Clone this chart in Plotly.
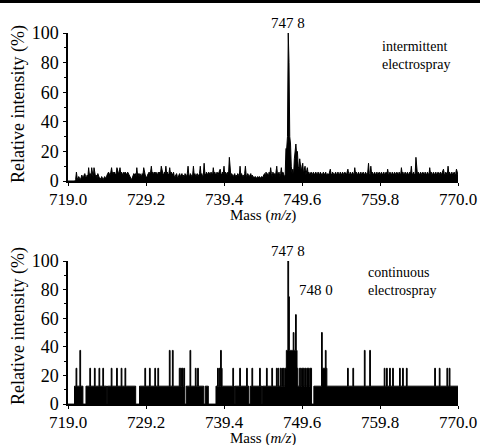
import plotly.graph_objects as go

# ---------------- data ----------------
MASS_START = 719.0          # first sampled m/z
MASS_STEP = 0.1             # sampling interval (m/z)
X_TICKS = [719.0, 729.2, 739.4, 749.6, 759.8, 770.0]
Y_TICKS = [0, 20, 40, 60, 80, 100]

# intermittent electrospray: relative intensity (%) per sample
INTERMITTENT = [
    0, 0, 0, 0, 0, 0, 0, 0, 0, 0,
    1, 6, 2, 1, 3, 2, 1, 2, 4, 3,
    2, 4, 5, 3, 2, 4, 3, 9, 4, 5,
    3, 9, 4, 2, 9, 5, 3, 4, 2, 5,
    3, 2, 2, 1, 3, 2, 1, 2, 3, 2,
    2, 4, 5, 6, 5, 4, 6, 9, 5, 6,
    5, 6, 4, 5, 9, 6, 5, 6, 9, 5,
    6, 5, 4, 6, 5, 6, 5, 4, 6, 5,
    4, 2, 2, 1, 2, 4, 5, 4, 5, 3,
    9, 4, 5, 3, 5, 4, 3, 5, 4, 9,
    5, 4, 3, 2, 4, 5, 6, 5, 6, 10,
    5, 6, 4, 6, 5, 6, 5, 4, 6, 5,
    6, 5, 10, 6, 5, 4, 6, 5, 10, 5,
    6, 4, 5, 9, 5, 6, 5, 4, 6, 3,
    3, 4, 5, 3, 2, 4, 5, 3, 4, 5,
    3, 4, 2, 5, 4, 3, 5, 10, 4, 3,
    5, 4, 3, 4, 10, 4, 5, 3, 4, 5,
    3, 4, 5, 10, 4, 5, 3, 4, 12, 5,
    4, 6, 5, 4, 6, 5, 4, 6, 5, 4,
    9, 5, 6, 4, 5, 6, 4, 5, 6, 8,
    5, 4, 6, 5, 10, 4, 6, 5, 4, 6,
    5, 16, 4, 3, 5, 4, 3, 4, 5, 3,
    4, 3, 5, 4, 3, 10, 4, 5, 3, 4,
    3, 5, 10, 4, 3, 5, 4, 3, 4, 5,
    3, 4, 2, 3, 2, 3, 2, 2, 3, 2,
    3, 2, 2, 3, 2, 3, 4, 5, 3, 6,
    4, 5, 3, 6, 4, 9, 5, 3, 6, 4,
    5, 3, 6, 10, 4, 5, 6, 3, 5, 9,
    4, 6, 5, 3, 4, 22, 22, 30, 100, 80,
    30, 25, 10, 5, 8, 4, 15, 22, 25, 18,
    20, 10, 8, 15, 12, 6, 10, 12, 5, 8,
    10, 4, 6, 9, 5, 6, 4, 5, 6, 4,
    5, 6, 4, 5, 6, 5, 4, 6, 5, 4,
    6, 5, 4, 5, 6, 4, 5, 6, 4, 5,
    5, 4, 6, 8, 5, 4, 6, 5, 4, 5,
    6, 4, 5, 6, 5, 4, 6, 5, 4, 6,
    5, 4, 6, 5, 4, 6, 8, 5, 4, 6,
    5, 4, 6, 5, 4, 9, 5, 6, 4, 5,
    6, 4, 5, 6, 4, 5, 6, 5, 4, 6,
    5, 4, 6, 12, 5, 4, 10, 5, 6, 4,
    5, 6, 4, 5, 6, 4, 5, 6, 4, 5,
    6, 4, 5, 6, 4, 5, 6, 4, 8, 5,
    4, 6, 5, 4, 6, 5, 4, 6, 5, 4,
    6, 5, 4, 6, 5, 4, 9, 5, 6, 4,
    5, 6, 4, 5, 6, 4, 5, 6, 5, 10,
    4, 5, 6, 4, 5, 16, 5, 4, 6, 5,
    4, 6, 5, 4, 6, 5, 4, 6, 5, 4,
    6, 5, 4, 9, 5, 6, 4, 5, 6, 4,
    5, 6, 4, 5, 6, 4, 5, 6, 4, 5,
    6, 8, 5, 4, 6, 5, 4, 10, 5, 6,
    4, 5, 6, 4, 5, 6, 4, 5, 8, 5,
    4,
]

# continuous electrospray: ion counts per sample (base peak = 8 counts)
CONTINUOUS_COUNTS = [
    0, 0, 0, 0, 0, 0, 0, 0, 0, 1,
    1, 2, 1, 1, 1, 1, 3, 1, 1, 1,
    0, 0, 0, 0, 1, 1, 1, 1, 1, 2,
    1, 1, 1, 1, 1, 2, 1, 1, 1, 1,
    1, 2, 1, 1, 1, 1, 2, 1, 1, 1,
    1, 0, 1, 1, 1, 1, 1, 2, 1, 1,
    1, 1, 1, 1, 2, 1, 1, 1, 1, 1,
    2, 1, 1, 1, 1, 2, 1, 1, 1, 1,
    1, 1, 1, 1, 1, 1, 1, 1, 1, 0,
    0, 0, 0, 0, 1, 1, 1, 1, 1, 1,
    1, 2, 1, 1, 1, 1, 1, 2, 1, 1,
    1, 1, 1, 1, 2, 1, 1, 1, 2, 1,
    1, 1, 1, 1, 1, 1, 1, 1, 1, 1,
    1, 1, 1, 3, 1, 1, 1, 3, 1, 1,
    1, 1, 1, 1, 1, 1, 2, 2, 1, 2,
    2, 1, 2, 0, 0, 1, 1, 1, 1, 1,
    3, 1, 1, 1, 1, 1, 1, 2, 1, 1,
    2, 1, 1, 1, 1, 1, 1, 1, 0, 0,
    1, 1, 1, 1, 0, 0, 0, 0, 0, 0,
    0, 0, 0, 0, 1, 1, 2, 1, 2, 1,
    3, 2, 1, 1, 1, 1, 1, 1, 1, 1,
    1, 1, 1, 1, 1, 1, 2, 1, 0, 1,
    1, 1, 1, 1, 1, 2, 1, 1, 1, 1,
    1, 1, 1, 1, 2, 1, 1, 0, 0, 1,
    1, 2, 1, 1, 1, 1, 1, 1, 1, 1,
    1, 2, 1, 1, 0, 1, 1, 1, 1, 1,
    2, 1, 1, 1, 1, 1, 1, 2, 1, 1,
    1, 1, 1, 2, 1, 2, 1, 1, 2, 1,
    2, 1, 2, 1, 2, 2, 3, 3, 8, 6,
    3, 3, 3, 3, 3, 4, 3, 3, 5, 3,
    2, 1, 1, 2, 2, 1, 2, 2, 2, 1,
    2, 2, 1, 2, 2, 2, 1, 2, 2, 0,
    0, 0, 1, 1, 1, 1, 1, 1, 1, 1,
    1, 1, 4, 2, 2, 2, 2, 3, 2, 1,
    1, 1, 1, 1, 1, 1, 1, 1, 1, 1,
    1, 1, 1, 1, 1, 1, 1, 1, 1, 1,
    1, 1, 1, 1, 1, 1, 2, 1, 1, 1,
    1, 1, 1, 2, 1, 1, 1, 1, 1, 1,
    1, 1, 1, 1, 1, 1, 1, 1, 3, 1,
    1, 1, 1, 1, 1, 3, 1, 1, 1, 1,
    1, 1, 1, 1, 1, 1, 1, 1, 1, 1,
    1, 1, 1, 1, 2, 1, 1, 2, 1, 1,
    1, 2, 1, 1, 1, 2, 1, 1, 1, 1,
    1, 1, 1, 1, 2, 1, 1, 1, 2, 1,
    1, 1, 1, 2, 1, 1, 1, 1, 1, 1,
    1, 1, 1, 1, 1, 1, 1, 1, 1, 1,
    1, 1, 1, 1, 1, 1, 1, 1, 1, 1,
    1, 1, 1, 1, 1, 1, 1, 1, 1, 1,
    2, 1, 1, 1, 1, 1, 2, 1, 1, 1,
    1, 1, 1, 1, 1, 1, 2, 1, 1, 2,
    1, 1, 1, 1, 1, 1, 1, 1, 1, 1,
    1,
]

TOP_PEAKS = [(747.8, 100, "747 8")]
BOTTOM_PEAKS = [(747.8, 100, "747 8")]
BOTTOM_SIDE_PEAK = (748.0, 75, "748 0")
TOP_NOTE = "intermittent<br>electrospray"
BOTTOM_NOTE = "continuous<br>electrospray"

# ---------------- derived ----------------
mass_top = [MASS_START + MASS_STEP * i for i in range(len(INTERMITTENT))]
mass_bot = [MASS_START + MASS_STEP * i for i in range(len(CONTINUOUS_COUNTS))]
max_count = max(CONTINUOUS_COUNTS)
rel_bot = [c / max_count * 100 for c in CONTINUOUS_COUNTS]

W, H = 480, 445
FONT = "Liberation Serif, Times New Roman, serif"

def px_x(p):
    return p / W

def px_y(p):
    return 1 - p / H

fig = go.Figure()
fig.add_trace(go.Scatter(
    x=mass_top, y=INTERMITTENT, mode="lines",
    line=dict(color="black", width=1), fill="tozeroy", fillcolor="black",
    xaxis="x", yaxis="y", showlegend=False, hoverinfo="skip"))
fig.add_trace(go.Scatter(
    x=mass_bot, y=rel_bot, mode="lines", line_shape="hvh",
    line=dict(color="black", width=1), fill="tozeroy", fillcolor="black",
    xaxis="x2", yaxis="y2", showlegend=False, hoverinfo="skip"))

xdom = [px_x(68), px_x(458)]
axis_common = dict(
    showline=True, linecolor="black", linewidth=1.5,
    ticks="outside", tickcolor="black", tickwidth=1.2, ticklen=3,
    showgrid=False, zeroline=False, automargin=False,
    tickfont=dict(family=FONT, size=17, color="black"),
)
xaxis_common = dict(axis_common, range=[719.0, 770.0], tickvals=X_TICKS,
                    ticktext=[f"{v:.1f}" for v in X_TICKS],
                    ticklabelstandoff=-1)
yaxis_common = dict(axis_common, range=[0, 100], tickvals=Y_TICKS,
                    tickfont=dict(family=FONT, size=18, color="black"),
                    ticklabelstandoff=1,
                    minor=dict(ticks="outside", dtick=10, ticklen=2.5,
                               tickcolor="black", tickwidth=1))

fig.update_layout(
    width=W, height=H,
    margin=dict(l=0, r=0, t=0, b=0, pad=0, autoexpand=False),
    paper_bgcolor="white", plot_bgcolor="white",
    font=dict(family=FONT, color="black"),
    xaxis=dict(xaxis_common, domain=xdom, anchor="y"),
    yaxis=dict(yaxis_common, domain=[px_y(181), px_y(33)], anchor="x"),
    xaxis2=dict(xaxis_common, domain=xdom, anchor="y2"),
    yaxis2=dict(yaxis_common, domain=[px_y(404), px_y(261)], anchor="x2"),
)

ann = []
# axis titles
for yc in (104, 326):
    ann.append(dict(x=px_x(18), y=px_y(yc), xref="paper", yref="paper",
                    xanchor="center", yanchor="middle",
                    text="Relative intensity (%)", textangle=-90,
                    showarrow=False, font=dict(family=FONT, size=18, color="black")))
for yc in (215, 438):
    ann.append(dict(x=px_x(263), y=px_y(yc), xref="paper", yref="paper",
                    xanchor="center", yanchor="middle",
                    text="Mass (<i>m/z</i>)", showarrow=False,
                    font=dict(family=FONT, size=15, color="black")))
# peak labels
for m, v, t in TOP_PEAKS:
    ann.append(dict(x=m, y=v, xref="x", yref="y", text=t, showarrow=False,
                    xanchor="center", yanchor="bottom", yshift=0,
                    font=dict(family=FONT, size=15, color="black")))
for m, v, t in BOTTOM_PEAKS:
    ann.append(dict(x=m, y=v, xref="x2", yref="y2", text=t, showarrow=False,
                    xanchor="center", yanchor="bottom", yshift=0,
                    font=dict(family=FONT, size=15, color="black")))
m, v, t = BOTTOM_SIDE_PEAK
ann.append(dict(x=m, y=v, xref="x2", yref="y2", text=t, showarrow=False,
                xanchor="left", yanchor="middle", xshift=7, yshift=7,
                font=dict(family=FONT, size=15, color="black")))
# notes
ann.append(dict(x=px_x(380), y=px_y(37), xref="paper", yref="paper",
                text=TOP_NOTE, showarrow=False, xanchor="left", yanchor="top",
                align="left", font=dict(family=FONT, size=14, color="black")))
ann.append(dict(x=px_x(366), y=px_y(263), xref="paper", yref="paper",
                text=BOTTOM_NOTE, showarrow=False, xanchor="left", yanchor="top",
                align="left", font=dict(family=FONT, size=14, color="black")))
fig.update_layout(annotations=ann)

# scan border line at top of page
fig.add_shape(type="line", xref="paper", yref="paper",
              x0=0, x1=1, y0=px_y(1.5), y1=px_y(1.5),
              line=dict(color="black", width=3))

fig.write_html(
    "out.html",
    config={"displayModeBar": False},
    post_script="document.body.style.margin='0';document.body.style.overflow='hidden';",
)
